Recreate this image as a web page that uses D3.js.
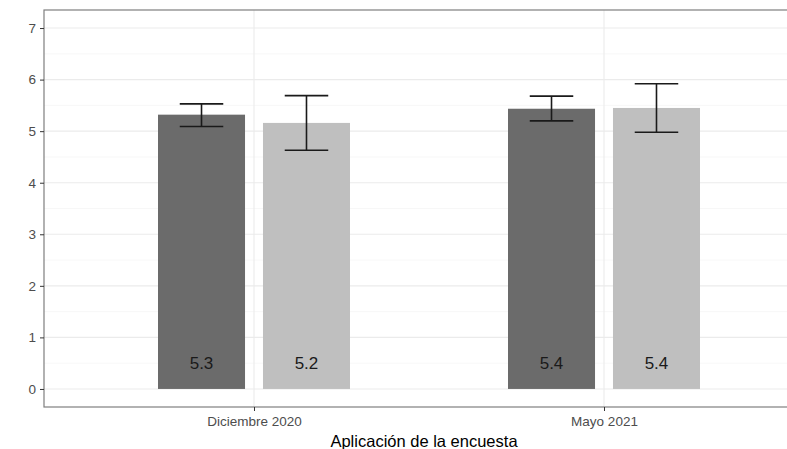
<!DOCTYPE html>
<html>
<head>
<meta charset="utf-8">
<script src="https://cdn.jsdelivr.net/npm/d3@7"></script>
<style>
  body { margin: 0; background: #fff; }
  svg { display: block; font-family: "Liberation Sans", Arial, sans-serif; }
</style>
</head>
<body>
<script>
// Datos
var periods = ['Diciembre 2020', 'Mayo 2021']
var groups = ['A', 'B']
var means = [[5.32, 5.16], [5.435, 5.45]]
var lower = [[5.09, 4.63], [5.20, 4.98]]
var upper = [[5.53, 5.69], [5.68, 5.92]]
var labels = [['5.3', '5.2'], ['5.4', '5.4']]
var yTicks = [0, 1, 2, 3, 4, 5, 6, 7]

var colours = { A: '#6b6b6b', B: '#bfbfbf' }
var width = 787, height = 449
var panel = { left: 44, right: 814, top: 10, bottom: 407 }

var rows = []
periods.forEach((p, i) => groups.forEach((g, j) => rows.push({
  period: p, group: g, mean: means[i][j], lo: lower[i][j], hi: upper[i][j], label: labels[i][j]
})))

var x = d3.scalePoint().domain(periods).range([panel.left, panel.right]).padding(0.6)
var xDodge = d3.scaleBand().domain(groups).range([-96, 96]).paddingInner(0.171)
var y = d3.scaleLinear().domain([-0.35, 7.35]).range([panel.bottom, panel.top])

var svg = d3.select('body').append('svg').attr('width', width).attr('height', height)

// Rejilla
var minor = d3.range(0.5, 7, 1)
svg.append('g').selectAll('line').data(minor).join('line')
  .attr('x1', panel.left).attr('x2', panel.right)
  .attr('y1', d => y(d)).attr('y2', d => y(d))
  .attr('stroke', '#f2f2f2').attr('stroke-width', 0.6)
svg.append('g').selectAll('line').data(yTicks).join('line')
  .attr('x1', panel.left).attr('x2', panel.right)
  .attr('y1', d => y(d)).attr('y2', d => y(d))
  .attr('stroke', '#ebebeb').attr('stroke-width', 1.1)
svg.append('g').selectAll('line').data(periods).join('line')
  .attr('x1', d => x(d)).attr('x2', d => x(d))
  .attr('y1', panel.top).attr('y2', panel.bottom)
  .attr('stroke', '#ebebeb').attr('stroke-width', 1.1)

// Barras
svg.append('g').selectAll('rect').data(rows).join('rect')
  .attr('x', d => x(d.period) + xDodge(d.group))
  .attr('width', xDodge.bandwidth())
  .attr('y', d => y(d.mean))
  .attr('height', d => y(0) - y(d.mean))
  .attr('fill', d => colours[d.group])

// Barras de error
var cap = xDodge.bandwidth() / 2
var err = svg.append('g').attr('stroke', '#1a1a1a').attr('stroke-width', 1.6)
rows.forEach(d => {
  var cx = x(d.period) + xDodge(d.group) + xDodge.bandwidth() / 2
  err.append('line').attr('x1', cx).attr('x2', cx).attr('y1', y(d.lo)).attr('y2', y(d.hi))
  err.append('line').attr('x1', cx - cap / 2).attr('x2', cx + cap / 2).attr('y1', y(d.lo)).attr('y2', y(d.lo))
  err.append('line').attr('x1', cx - cap / 2).attr('x2', cx + cap / 2).attr('y1', y(d.hi)).attr('y2', y(d.hi))
})

// Etiquetas
svg.append('g').selectAll('text').data(rows).join('text')
  .attr('x', d => x(d.period) + xDodge(d.group) + xDodge.bandwidth() / 2)
  .attr('y', y(0.5))
  .attr('dy', '0.35em')
  .attr('text-anchor', 'middle')
  .attr('font-size', '17px')
  .attr('fill', '#1a1a1a')
  .text(d => d.label)

// Borde del panel
svg.append('rect')
  .attr('x', panel.left).attr('y', panel.top)
  .attr('width', panel.right - panel.left).attr('height', panel.bottom - panel.top)
  .attr('fill', 'none').attr('stroke', '#7f7f7f').attr('stroke-width', 1.2)

// Ejes
var yAxis = svg.append('g').attr('transform', `translate(${panel.left},0)`)
  .call(d3.axisLeft(y).tickValues(yTicks).tickSize(4).tickPadding(4))
yAxis.select('.domain').remove()
yAxis.selectAll('line').attr('stroke', '#333')
yAxis.selectAll('text').attr('font-size', '13.5px').attr('fill', '#4d4d4d').attr('font-family', null)

var xAxis = svg.append('g').attr('transform', `translate(0,${panel.bottom})`)
  .call(d3.axisBottom(x).tickSize(4).tickPadding(5))
xAxis.select('.domain').remove()
xAxis.selectAll('line').attr('stroke', '#333')
xAxis.selectAll('text').attr('font-size', '13.5px').attr('fill', '#4d4d4d').attr('font-family', null)

svg.append('text')
  .attr('x', 424).attr('y', 441)
  .attr('dy', '0.35em')
  .attr('text-anchor', 'middle')
  .attr('font-size', '16.5px')
  .attr('fill', '#000')
  .text('Aplicación de la encuesta')
</script>
</body>
</html>
